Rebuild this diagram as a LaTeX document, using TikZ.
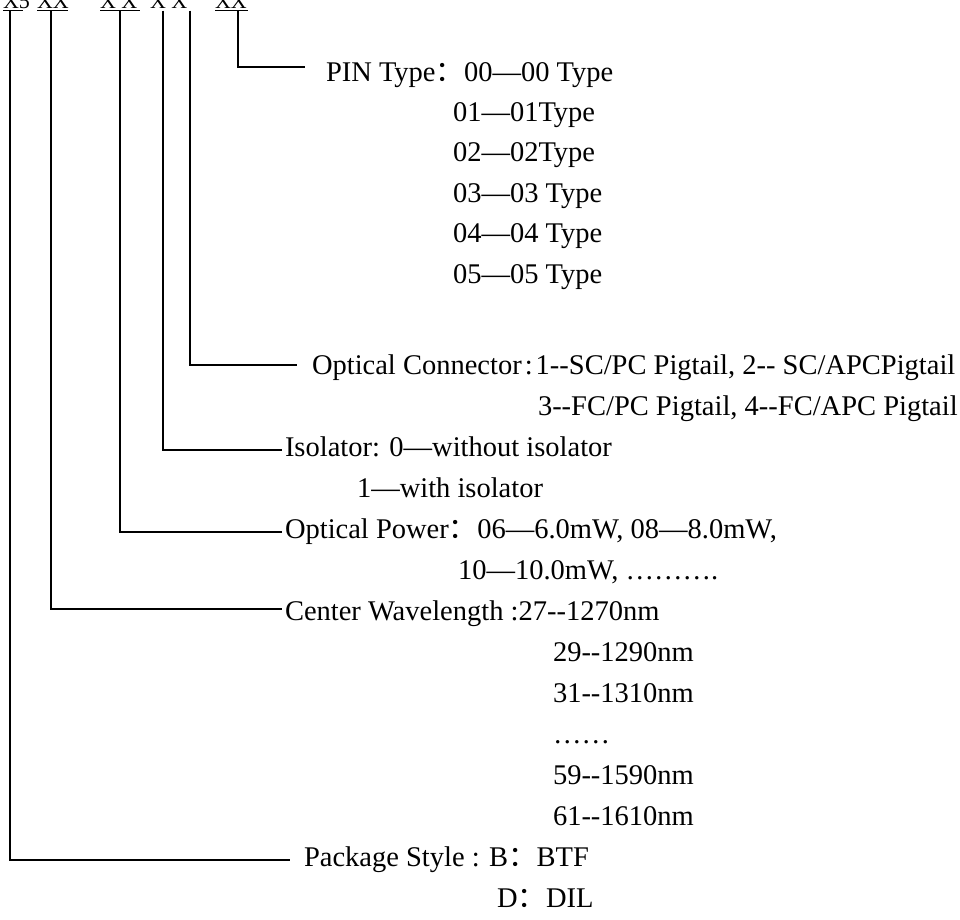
\documentclass[tikz,border=0pt]{standalone}
\usepackage{fontspec}
\newfontfamily\tnr{Liberation Serif}
\newfontfamily\cjk{Noto Sans CJK SC}
\newcommand{\fc}{{\cjk ：}}
\newcommand{\dd}{-\kern0pt-}
\begin{document}
\begin{tikzpicture}[x=1pt,y=-1pt,line width=1.2pt,
  every node/.style={inner sep=0pt,outer sep=0pt},
  lbl/.style={anchor=base west,font=\tnr\fontsize{28.5}{30}\selectfont},
  hdr/.style={anchor=base west,font=\tnr\fontsize{22}{24}\selectfont},
  uline/.style={line width=1.6pt},
  conn/.style={line width=1.2pt}]
\useasboundingbox (0,0) rectangle (960,919);
\clip (0,0) rectangle (960,919);
% header code (cut off at the top edge, as in the reference)
\node[hdr] (g1) at (3,8) {X5};
\node[hdr] (g2) at (37,8) {XX};
\node[hdr] (g3) at (100,8) {X X};
\node[hdr] (g4) at (150,8) {X X};
\node[hdr] (g5) at (215,8) {XX};
\draw[uline] (3,10.5) -- (23,10.5);
\draw[uline] (37,10.5) -- (68,10.5);
\draw[uline] (100,10.5) -- (140,10.5);
\draw[uline] (215,10.5) -- (248,10.5);
% tops of connectors
\coordinate (t1) at (10,10.5);
\coordinate (t2) at (51,10.5);
\coordinate (t3) at (120,10.5);
\coordinate (t4) at (163,10.5);
\coordinate (t5) at (190,10.5);
\coordinate (t6) at (238,10.5);
% ends of connectors
\coordinate (e1) at (290,860);
\coordinate (e2) at (282,609);
\coordinate (e3) at (282,532);
\coordinate (e4) at (282,450);
\coordinate (e5) at (297,365);
\coordinate (e6) at (305,67);
\draw[conn] (t1) |- (e1);
\draw[conn] (t2) |- (e2);
\draw[conn] (t3) |- (e3);
\draw[conn] (t4) |- (e4);
\draw[conn] (t5) |- (e5);
\draw[conn] (t6) |- (e6);
% PIN type
\node[lbl] (pin) at (326,81) {PIN Type\fc 00—00 Type};
\node[lbl] (pin1) at (453,121.4) {01—01Type};
\node[lbl] (pin2) at (453,161.8) {02—02Type};
\node[lbl] (pin3) at (453,202.2) {03—03 Type};
\node[lbl] (pin4) at (453,242.6) {04—04 Type};
\node[lbl] (pin5) at (453,283) {05—05 Type};
% optical connector
\node[lbl] (oc) at (312,374) {Optical Connector\kern3pt:\kern3pt1\dd SC/PC Pigtail, 2\dd{} SC/APCPigtail};
\node[lbl] (oc2) at (538,415) {3\dd FC/PC Pigtail, 4\dd FC/APC Pigtail};
% isolator
\node[lbl] (iso) at (285,456) {Isolator: 0—without isolator};
\node[lbl] (iso1) at (357,497) {1—with isolator};
% optical power
\node[lbl] (op) at (285,538) {Optical Power\fc 06—6.0mW, 08—8.0mW,};
\node[lbl] (op2) at (458,579) {10—10.0mW, ……….};
% center wavelength
\node[lbl] (cw) at (285,620) {Center Wavelength :27\dd 1270nm};
\node[lbl] (cw1) at (553,661) {29\dd 1290nm};
\node[lbl] (cw2) at (553,702) {31\dd 1310nm};
\node[lbl] (cw3) at (553,743) {……};
\node[lbl] (cw4) at (553,784) {59\dd 1590nm};
\node[lbl] (cw5) at (553,825) {61\dd 1610nm};
% package
\node[lbl] (ps) at (304,866) {Package Style : B\fc BTF};
\node[lbl] (ps1) at (497,907) {D\fc DIL};
\end{tikzpicture}
\end{document}
